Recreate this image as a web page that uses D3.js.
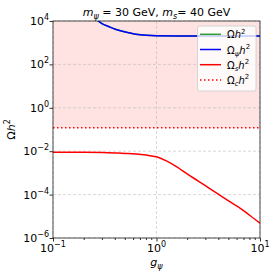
<!DOCTYPE html>
<html><head><meta charset="utf-8">
<script src="https://cdn.jsdelivr.net/npm/d3@7"></script>
<style>body{margin:0;background:#fff}svg{display:block;font-family:"DejaVu Sans",sans-serif}</style>
</head><body><div id="c"></div>
<script>
// data
const gRed = [0.1,0.2,0.3,0.4,0.5,0.631,0.794,1.0,1.259,1.585,1.995,2.512,3.162,3.981,5.012,6.31,7.943,10];
const omegaS = [0.0089,0.0089,0.0087,0.0083,0.0079,0.0074,0.0066,0.0055,0.0035,0.00186,0.00087,0.00043,0.00021,0.000102,0.00005,0.000025,0.0000112,0.0000048];
const gBlue = [0.2,0.251,0.3,0.35,0.4,0.5,0.631,0.794,1.0,2.0,5.0,10];
const omegaPsi = [40000,14000,7400,5400,4200,3100,2450,2190,2090,2040,2040,2040];
const omegaTot = [40000,14000,7400,5400,4200,3100,2450,2190,2090,2040,2040,2040];
const omegaC = 0.12;
const xTicks = [0.1,1,10];
const xTickExp = ["−1","0","1"];
const yTicks = [1e-6,1e-4,1e-2,1,1e2,1e4];
const yTickExp = ["−6","−4","−2","0","2","4"];
const legendLabels = [["Ω","h","2",""],["Ω","h","2","ψ"],["Ω","h","2","s"],["Ω","h","2","c"]];

const W=278,H=278, L=53,R=260,T=21,B=238;
const svg=d3.select("#c").append("svg").attr("width",W).attr("height",H);
const x=d3.scaleLog().domain([0.1,10]).range([L,R]);
const y=d3.scaleLog().domain([1e-6,1e4]).range([B,T]);

svg.append("defs").append("clipPath").attr("id","clip").append("rect")
  .attr("x",L).attr("y",T).attr("width",R-L).attr("height",B-T);

// shaded region
svg.append("rect").attr("x",L).attr("y",T).attr("width",R-L).attr("height",y(omegaC)-T)
  .attr("fill","#ff0000").attr("fill-opacity",0.11);

// grid
const grid=svg.append("g").attr("stroke","#b0b0b0").attr("stroke-width",0.8).attr("stroke-dasharray","3,2").attr("opacity",0.6);
xTicks.forEach(t=>grid.append("line").attr("x1",x(t)).attr("x2",x(t)).attr("y1",T).attr("y2",B));
yTicks.forEach(t=>grid.append("line").attr("x1",L).attr("x2",R).attr("y1",y(t)).attr("y2",y(t)));

const plot=svg.append("g").attr("clip-path","url(#clip)");
const line=d3.line().curve(d3.curveMonotoneX);
plot.append("path").attr("d",line(gBlue.map((g,i)=>[x(g),y(omegaTot[i])]))).attr("fill","none").attr("stroke","#2ca02c").attr("stroke-width",1.5);
plot.append("path").attr("d",line(gBlue.map((g,i)=>[x(g),y(omegaPsi[i])]))).attr("fill","none").attr("stroke","#0000ff").attr("stroke-width",1.5);
plot.append("path").attr("d",line(gRed.map((g,i)=>[x(g),y(omegaS[i])]))).attr("fill","none").attr("stroke","#ff0000").attr("stroke-width",1.5);
plot.append("line").attr("x1",L).attr("x2",R).attr("y1",y(omegaC)).attr("y2",y(omegaC))
  .attr("stroke","#ff0000").attr("stroke-width",1.5).attr("stroke-dasharray","1.5,2.5");

// axes
const xAxis=d3.axisBottom(x).tickValues(xTicks).tickSize(3.5).tickFormat("");
const gx=svg.append("g").attr("transform",`translate(0,${B})`).call(xAxis);
const minors=[];
for(const d of [0.1,1]) for(let k=2;k<10;k++) minors.push(d*k);
gx.selectAll(".minor").data(minors).enter().append("line").attr("x1",d=>x(d)).attr("x2",d=>x(d)).attr("y1",0).attr("y2",2).attr("stroke","#000").attr("stroke-width",0.6);
const yAxis=d3.axisLeft(y).tickValues(yTicks).tickSize(3.5).tickFormat("");
const gy=svg.append("g").attr("transform",`translate(${L},0)`).call(yAxis);
[gx,gy].forEach(g=>{g.select(".domain").remove();g.selectAll("line").attr("stroke","#000").attr("stroke-width",0.8);});

svg.append("rect").attr("x",L).attr("y",T).attr("width",R-L).attr("height",B-T).attr("fill","none").attr("stroke","#222").attr("stroke-width",0.8);

// tick labels
xTicks.forEach((t,i)=>{
  const tx=svg.append("text").attr("x",x(t)).attr("y",252).attr("text-anchor","middle").attr("font-size",11).attr("fill","#000");
  tx.append("tspan").text("10");
  tx.append("tspan").attr("dy",-5).attr("font-size",8).text(xTickExp[i]);
});
yTicks.forEach((t,i)=>{
  const tx=svg.append("text").attr("x",49).attr("y",y(t)+4).attr("text-anchor","end").attr("font-size",11).attr("fill","#000");
  tx.append("tspan").text("10");
  tx.append("tspan").attr("dy",-5).attr("font-size",8).text(yTickExp[i]);
});

// axis labels
const xl=svg.append("text").attr("x",(L+R)/2).attr("y",266).attr("text-anchor","middle").attr("font-size",11);
xl.append("tspan").attr("font-style","italic").text("g");
xl.append("tspan").attr("dy",3).attr("font-size",8).attr("font-style","italic").text("ψ");
const yl=svg.append("text").attr("transform",`translate(15,${(T+B)/2}) rotate(-90)`).attr("text-anchor","middle").attr("font-size",11);
yl.append("tspan").text("Ω");
yl.append("tspan").attr("font-style","italic").text("h");
yl.append("tspan").attr("dy",-5).attr("font-size",8).text("2");

// title
const ti=svg.append("text").attr("x",(L+R)/2).attr("y",16).attr("text-anchor","middle").attr("font-size",11);
ti.append("tspan").attr("font-style","italic").text("m");
ti.append("tspan").attr("dy",3).attr("font-size",8).attr("font-style","italic").text("ψ");
ti.append("tspan").attr("dy",-3).text(" = 30 GeV, ");
ti.append("tspan").attr("font-style","italic").text("m");
ti.append("tspan").attr("dy",3).attr("font-size",8).attr("font-style","italic").text("s");
ti.append("tspan").attr("dy",-3).text("= 40 GeV");

// legend
const lg=svg.append("g");
lg.append("rect").attr("x",197.5).attr("y",26).attr("width",58.5).attr("height",65).attr("rx",2)
  .attr("fill","#fff").attr("fill-opacity",0.8).attr("stroke","#ccc").attr("stroke-width",0.8);
const lstyles=[["#2ca02c",null],["#0000ff",null],["#ff0000",null],["#ff0000","1.5,2.5"]];
legendLabels.forEach((lab,i)=>{
  const cy=34.3+i*15.2;
  const ln=lg.append("line").attr("x1",200).attr("x2",221).attr("y1",cy).attr("y2",cy).attr("stroke",lstyles[i][0]).attr("stroke-width",1.5);
  if(lstyles[i][1]) ln.attr("stroke-dasharray",lstyles[i][1]);
  const tx=lg.append("text").attr("x",227).attr("y",cy+4).attr("font-size",10);
  tx.append("tspan").text(lab[0]);
  if(lab[3]){tx.append("tspan").attr("dy",2.5).attr("font-size",7).attr("font-style","italic").text(lab[3]);
    tx.append("tspan").attr("dy",-2.5).attr("font-style","italic").text(lab[1]);}
  else tx.append("tspan").attr("font-style","italic").text(lab[1]);
  tx.append("tspan").attr("dy",-4.5).attr("font-size",7).text(lab[2]);
});
</script></body></html>
